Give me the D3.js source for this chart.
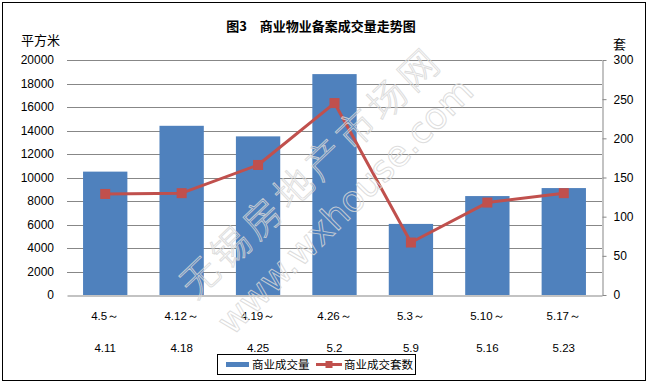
<!DOCTYPE html>
<html><head><meta charset="utf-8">
<script src="https://cdn.jsdelivr.net/npm/d3@7"></script>
<style>
html,body{margin:0;padding:0;background:#fff;}
svg{display:block;}
</style></head>
<body>
<svg id="chart" width="649" height="384"></svg>
<script>
const categories = ["4.5～|4.11","4.12～|4.18","4.19～|4.25","4.26～|5.2","5.3～|5.9","5.10～|5.16","5.17～|5.23"];
const areaValues = [10500, 14400, 13500, 18800, 6050, 8420, 9100];
const unitValues = [129, 130, 166, 245, 67, 118, 130];
const leftTicks = [0,2000,4000,6000,8000,10000,12000,14000,16000,18000,20000];
const rightTicks = [0,50,100,150,200,250,300];
const seriesNames = ["商业成交量","商业成交套数"];
const titleText = "图3　商业物业备案成交量走势图";

const svg = d3.select("#chart");
const W = 649, H = 384;
const plot = {l: 67, r: 602, t: 60, b: 295};
const barColor = "#4F81BD", lineColor = "#C0504D", gridColor = "#878787";
const numFont = "'Liberation Sans', Arial, sans-serif";
const cjkFont = "'Noto Sans CJK SC', 'Liberation Sans', sans-serif";

svg.append("rect").attr("width", W).attr("height", H).attr("fill", "#fff");
svg.append("rect").attr("x", 2.5).attr("y", 2.5).attr("width", 643).attr("height", 378)
  .attr("fill", "none").attr("stroke", "#000").attr("stroke-width", 1);

const x = d3.scaleBand().domain(categories).range([plot.l, plot.r]).paddingInner(0.42).paddingOuter(0.21);
const yL = d3.scaleLinear().domain([0, 20000]).range([plot.b, plot.t]);
const yR = d3.scaleLinear().domain([0, 300]).range([plot.b, plot.t]);

// gridlines
svg.append("g").selectAll("line").data(leftTicks.slice(1)).join("line")
  .attr("x1", plot.l).attr("x2", plot.r)
  .attr("y1", d => Math.round(yL(d)) + 0.5).attr("y2", d => Math.round(yL(d)) + 0.5)
  .attr("stroke", gridColor).attr("stroke-width", 1);

// left axis labels
const gL = svg.append("g").attr("transform", `translate(${plot.l},0)`)
  .call(d3.axisLeft(yL).tickValues(leftTicks).tickSize(0).tickPadding(13).tickFormat(d3.format("d")));
gL.select(".domain").remove();
gL.selectAll("text").attr("font-family", numFont).attr("font-size", 12).attr("fill", "#000");

// right axis
const gR = svg.append("g").attr("transform", `translate(${plot.r + 0.5},0)`)
  .call(d3.axisRight(yR).tickValues(rightTicks).tickSizeInner(4).tickSizeOuter(0).tickPadding(7));
gR.select(".domain").attr("stroke", gridColor);
gR.selectAll(".tick line").attr("stroke", gridColor);
gR.selectAll("text").attr("font-family", numFont).attr("font-size", 12).attr("fill", "#000");

// bars
svg.append("g").selectAll("rect").data(areaValues).join("rect")
  .attr("x", (d, i) => x(categories[i]))
  .attr("width", x.bandwidth())
  .attr("y", d => yL(d))
  .attr("height", d => yL(0) - yL(d))
  .attr("fill", barColor);

// bottom axis
const gB = svg.append("g").attr("transform", `translate(0,${Math.round(plot.b) + 0.5})`)
  .call(d3.axisBottom(x).tickSize(0).tickFormat(""));
gB.select(".domain").attr("stroke", gridColor);
const labs = svg.append("g").selectAll("g").data(categories).join("g")
  .attr("transform", d => `translate(${x(d) + x.bandwidth() / 2},0)`);
labs.append("text").attr("y", 316).attr("dy", "0.35em").attr("text-anchor", "middle")
  .attr("font-family", numFont).attr("font-size", 11.5).text(d => d.split("|")[0]);
labs.append("text").attr("y", 348).attr("dy", "0.35em").attr("text-anchor", "middle")
  .attr("font-family", numFont).attr("font-size", 11.5).text(d => d.split("|")[1]);

// line series
const cx = i => x(categories[i]) + x.bandwidth() / 2;
const line = d3.line().x((d, i) => cx(i)).y(d => yR(d));
svg.append("path").datum(unitValues).attr("d", line).attr("fill", "none")
  .attr("stroke", lineColor).attr("stroke-width", 3).attr("stroke-linejoin", "round");
const ms = 10;
svg.append("g").selectAll("rect").data(unitValues).join("rect")
  .attr("x", (d, i) => cx(i) - ms / 2).attr("y", d => yR(d) - ms / 2)
  .attr("width", ms).attr("height", ms).attr("fill", lineColor);

// watermark
const wm = svg.append("g").attr("fill", "none").attr("stroke", "rgba(215,215,215,0.85)").attr("stroke-width", 1);
wm.append("text").attr("transform", "translate(309,170) rotate(-43.5)")
  .attr("text-anchor", "middle").attr("dominant-baseline", "central")
  .attr("font-family", cjkFont).attr("font-weight", 300).attr("font-size", 38).attr("letter-spacing", 5)
  .text("无锡房地产市场网");
wm.append("text").attr("transform", "translate(345,206) rotate(-45)")
  .attr("text-anchor", "middle").attr("dominant-baseline", "central")
  .attr("font-family", "'DejaVu Sans', sans-serif").attr("font-size", 36)
  .text("www.wxhouse.com");

// title & axis titles
svg.append("text").attr("x", 321).attr("y", 26).attr("dy", "0.35em").attr("text-anchor", "middle")
  .attr("font-family", cjkFont).attr("font-weight", "bold").attr("font-size", 13).text(titleText);
svg.append("text").attr("x", 21).attr("y", 40).attr("dy", "0.35em")
  .attr("font-family", cjkFont).attr("font-size", 13).text("平方米");
svg.append("text").attr("x", 613).attr("y", 44).attr("dy", "0.35em")
  .attr("font-family", cjkFont).attr("font-size", 13).text("套");

// legend
const lg = svg.append("g");
lg.append("rect").attr("x", 217.5).attr("y", 354.5).attr("width", 198).attr("height", 20)
  .attr("fill", "#fff").attr("stroke", "#000").attr("stroke-width", 1);
lg.append("rect").attr("x", 226).attr("y", 362).attr("width", 23).attr("height", 5).attr("fill", barColor);
lg.append("text").attr("x", 252).attr("y", 364.5).attr("dy", "0.35em")
  .attr("font-family", cjkFont).attr("font-size", 11.5).text(seriesNames[0]);
lg.append("line").attr("x1", 316).attr("x2", 342).attr("y1", 364.5).attr("y2", 364.5)
  .attr("stroke", lineColor).attr("stroke-width", 3);
lg.append("rect").attr("x", 325.5).attr("y", 361).attr("width", 7).attr("height", 7).attr("fill", lineColor);
lg.append("text").attr("x", 344).attr("y", 364.5).attr("dy", "0.35em")
  .attr("font-family", cjkFont).attr("font-size", 11.5).text(seriesNames[1]);
</script>
</body></html>
